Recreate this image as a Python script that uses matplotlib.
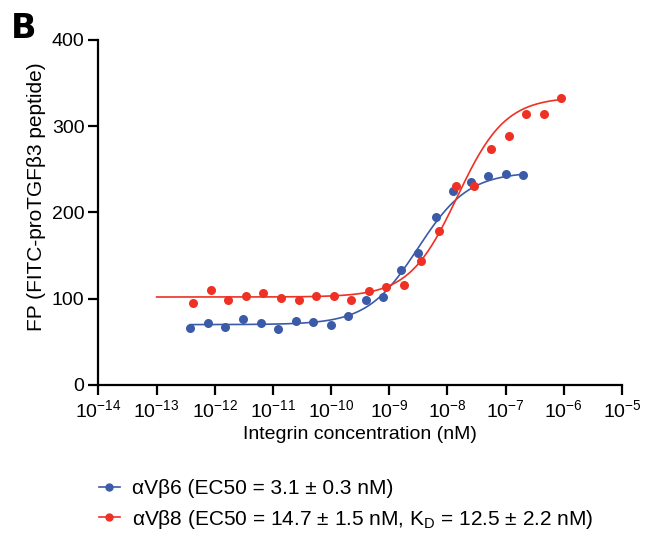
import numpy as np
import matplotlib
matplotlib.use('Agg')
import matplotlib.pyplot as plt
from matplotlib.lines import Line2D

plt.rcParams['font.family'] = ['Liberation Sans', 'DejaVu Sans']
plt.rcParams['mathtext.fontset'] = 'custom'
plt.rcParams['mathtext.rm'] = 'Liberation Sans'
plt.rcParams['mathtext.it'] = 'Liberation Sans:italic'
plt.rcParams['axes.unicode_minus'] = False

# serial 2-fold dilutions
b6_top_conc = 2e-7
b8_top_conc = 9e-7
b6_fp = [66.4, 71.3, 67.4, 76.0, 72.1, 65.1, 74.0, 72.9, 69.0, 79.4,
         98.6, 101.7, 133.3, 152.7, 194.4, 224.9, 235.4, 242.0, 245.0, 243.8]
b8_fp = [94.7, 110.1, 98.2, 102.8, 106.7, 100.9, 98.6, 103.5, 103.2, 98.6, 109.0,
         113.3, 115.6, 144.1, 178.9, 230.4, 231.1, 274.0, 289.0, 314.2, 314.2, 332.4]
x_exponents = list(range(-14, -4))

b6_conc = b6_top_conc / 2.0 ** np.arange(len(b6_fp))[::-1]
b8_conc = b8_top_conc / 2.0 ** np.arange(len(b8_fp))[::-1]

# fit parameters (bottom, top, EC50, hill)
b6_fit = (70.0, 247.0, 3.1e-9, 1.0)
b8_fit = (102.0, 334.0, 14.7e-9, 1.05)

def four_pl(x, p):
    bottom, top, ec50, hill = p
    return bottom + (top - bottom) / (1 + (ec50 / x) ** hill)

blue = '#3B5BA9'
red = '#EE3124'

fig = plt.figure(figsize=(6.5, 5.35), dpi=100)
ax = fig.add_axes([0.1515, 0.2804, 0.8054, 0.6449])

xb = np.logspace(np.log10(b6_conc[0]), np.log10(b6_conc[-1]), 300)
xr = np.logspace(-13, -6, 300)
ax.plot(xb, four_pl(xb, b6_fit), color=blue, lw=1.2)
ax.plot(xr, four_pl(xr, b8_fit), color=red, lw=1.2)
ax.plot(b6_conc, b6_fp, 'o', color=blue, ms=6.5, mec='none')
ax.plot(b8_conc, b8_fp, 'o', color=red, ms=6.5, mec='none')

ax.set_xscale('log')
ax.set_xlim(1e-14, 1e-5)
ax.set_ylim(0, 400)
ax.set_xticks([10.0 ** k for k in x_exponents])
ax.set_xticklabels(['$\\mathrm{10^{%d}}$' % k for k in x_exponents])
ax.xaxis.set_minor_locator(plt.NullLocator())
ax.set_yticks([0, 100, 200, 300, 400])

for s in ['top', 'right']:
    ax.spines[s].set_visible(False)
for s in ['left', 'bottom']:
    ax.spines[s].set_linewidth(1.6)
ax.tick_params(width=1.6, length=7, labelsize=14, pad=3)

ax.set_xlabel('Integrin concentration (nM)', fontsize=14, labelpad=4)
ax.set_ylabel('FP (FITC-proTGFβ3 peptide)', fontsize=15, labelpad=4)
ax.yaxis.label.set_y(0.545)

fig.text(0.017, 0.978, 'B', fontsize=24, fontweight='bold', va='top', ha='left',
         family='DejaVu Sans')

handles = [Line2D([], [], color=blue, marker='o', ms=5, lw=1.2),
           Line2D([], [], color=red, marker='o', ms=5, lw=1.2)]
labels = ['αVβ6 (EC50 = 3.1 ± 0.3 nM)',
          'αVβ8 (EC50 = 14.7 ± 1.5 nM, K$_\\mathrm{D}$ = 12.5 ± 2.2 nM)']
fig.legend(handles, labels, loc='upper left', bbox_to_anchor=(0.152, 0.104),
           frameon=False, fontsize=15, handlelength=1.0, handletextpad=0.6,
           labelspacing=0.45, borderaxespad=0, borderpad=0)

fig.savefig('out.png', dpi=100)
